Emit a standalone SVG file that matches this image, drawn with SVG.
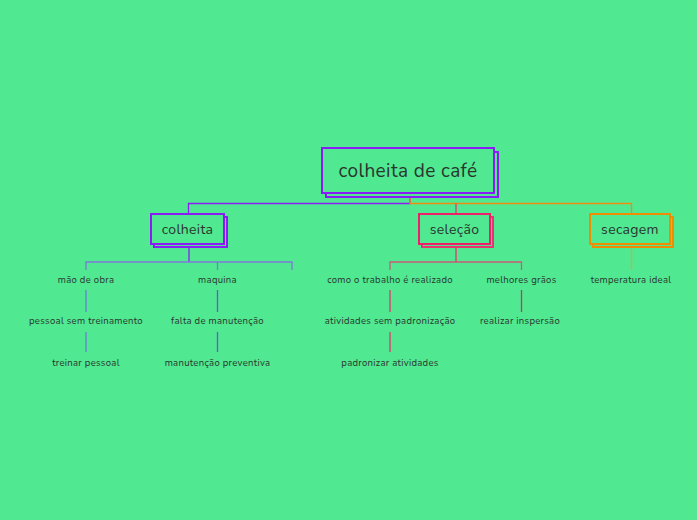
<svg xmlns="http://www.w3.org/2000/svg" width="697" height="520" viewBox="0 0 697 520">
<style>
text{font-family:"Nunito","Open Sans","Liberation Sans",sans-serif;fill:#2a352e;text-anchor:middle}
.t1{font-size:19px;letter-spacing:0.4px}
.t2{font-size:14px;letter-spacing:0.3px}
.t3{font-size:9.5px;letter-spacing:0.3px}
.box{fill:#50e891;stroke-width:2}
.ln{fill:none;stroke-width:1.3}
</style>
<rect width="697" height="520" fill="#50e891"/>
<g id="connectors">
<path class="ln" d="M410 194V203.5H188.5V213" stroke="#8a1cf5" stroke-width="1.5"/>
<path class="ln" d="M410 194V203.5H631.5V213" stroke="#f08c10"/>
<path class="ln" d="M456 203.5V213" stroke="#e8356f" stroke-width="1.5"/>
<path class="ln" d="M189 245V262" stroke="#8a1cf5" stroke-width="1.8"/>
<path class="ln" d="M86 270V262H292V270" stroke="#7f78d8"/>
<path class="ln" d="M217.5 262V270" stroke="#7f78d8"/>
<path class="ln" d="M86 290V312M86 332V352" stroke="#6a7fdb"/>
<path class="ln" d="M217.5 290V312M217.5 332V352" stroke="#8a3ff0"/>
<path class="ln" d="M456 245V262" stroke="#e8356f" stroke-width="1.5"/>
<path class="ln" d="M390 270V262H521.5V270" stroke="#c95a7a"/>
<path class="ln" d="M390 290V312M390 332V352" stroke="#e8356f"/>
<path class="ln" d="M521.5 290V312" stroke="#d0325a"/>
<path class="ln" d="M631.5 245V270" stroke="#e8a040"/>
</g>
<g id="root">
<rect class="box" x="326" y="152" width="172" height="45" stroke="#8a1cf5"/>
<rect class="box" x="322" y="148" width="172" height="45" stroke="#8a1cf5"/>
<text class="t1" x="408" y="177">colheita de café</text>
</g>
<g id="colheita">
<rect class="box" x="154" y="217" width="73" height="30" stroke="#8a1cf5"/>
<rect class="box" x="151" y="214" width="73" height="30" stroke="#8a1cf5"/>
<text class="t2" x="187.5" y="234">colheita</text>
</g>
<g id="selecao">
<rect class="box" x="422" y="217" width="71" height="30" stroke="#e8356f"/>
<rect class="box" x="419" y="214" width="71" height="30" stroke="#f01d6a"/>
<text class="t2" x="454.5" y="234">seleção</text>
</g>
<g id="secagem">
<rect class="box" x="593" y="217" width="80" height="30" stroke="#f08c00"/>
<rect class="box" x="590" y="214" width="80" height="30" stroke="#f08c00"/>
<text class="t2" x="630" y="234">secagem</text>
</g>
<g id="mao-de-obra"><text class="t3" x="86" y="283">mão de obra</text></g>
<g id="maquina"><text class="t3" x="217.5" y="283">maquina</text></g>
<g id="como-trabalho"><text class="t3" x="390" y="283">como o trabalho é realizado</text></g>
<g id="melhores-graos"><text class="t3" x="521.5" y="283">melhores grãos</text></g>
<g id="temperatura"><text class="t3" x="631" y="283">temperatura ideal</text></g>
<g id="pessoal"><text class="t3" x="86" y="324">pessoal sem treinamento</text></g>
<g id="falta"><text class="t3" x="217.5" y="324">falta de manutenção</text></g>
<g id="atividades"><text class="t3" x="390" y="324">atividades sem padronização</text></g>
<g id="inspecao"><text class="t3" x="520" y="324">realizar inspersão</text></g>
<g id="treinar"><text class="t3" x="86" y="366">treinar pessoal</text></g>
<g id="preventiva"><text class="t3" x="217.5" y="366">manutenção preventiva</text></g>
<g id="padronizar"><text class="t3" x="390" y="366">padronizar atividades</text></g>
</svg>
